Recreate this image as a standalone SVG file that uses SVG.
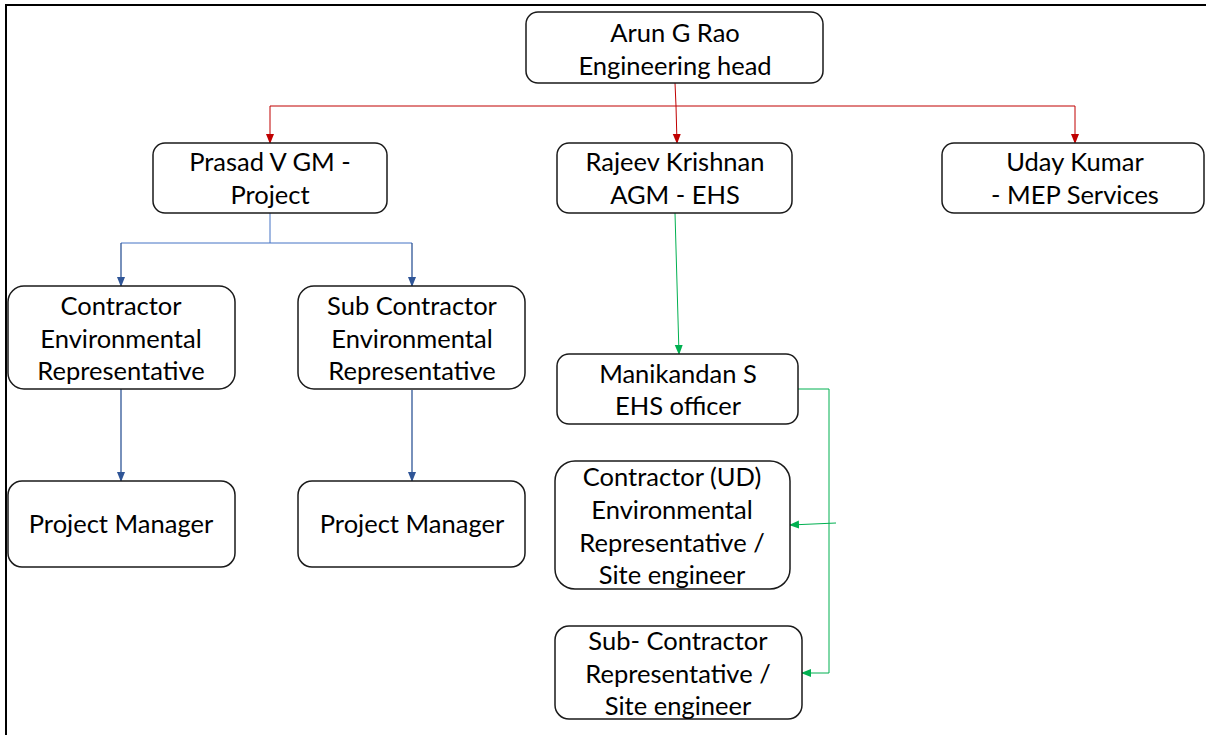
<svg xmlns="http://www.w3.org/2000/svg" width="1206" height="735" viewBox="0 0 1206 735">
<style>
.box{fill:#fff;stroke:#1a1a1a;stroke-width:1.5}
.t{font-family:Lato,"Liberation Sans",sans-serif;font-size:25.5px;fill:#000;text-anchor:middle}
.red{stroke:#C00000;stroke-width:1;fill:none}
.blue{stroke:#4472C4;stroke-width:1;fill:none}
.blue2{stroke:#2F5597;stroke-width:1.3;fill:none}
.green{stroke:#00B050;stroke-width:1;fill:none}
</style>
<defs>
<marker id="ar" markerWidth="10" markerHeight="10" refX="9" refY="5" orient="auto" markerUnits="userSpaceOnUse"><path d="M0,1 L10,5 L0,9 Z" fill="#C00000"/></marker>
<marker id="ab" markerWidth="10" markerHeight="10" refX="9" refY="5" orient="auto" markerUnits="userSpaceOnUse"><path d="M0,1 L10,5 L0,9 Z" fill="#2F5597"/></marker>
<marker id="ag" markerWidth="10" markerHeight="10" refX="9" refY="5" orient="auto" markerUnits="userSpaceOnUse"><path d="M0,1 L10,5 L0,9 Z" fill="#00B050"/></marker>
</defs>
<rect width="1206" height="735" fill="#fff"/>
<path d="M6,735 V5 H1206" fill="none" stroke="#000" stroke-width="2"/>
<g id="connectors">
<path class="red" d="M675,83 L676,106"/>
<path class="red" d="M270,106 H1075"/>
<path class="red" d="M270,106 V143" marker-end="url(#ar)"/>
<path class="red" d="M676,106 L677,143" marker-end="url(#ar)"/>
<path class="red" d="M1075,106 V143" marker-end="url(#ar)"/>
<path class="blue" d="M270,213 V243 M121,243 H412"/>
<path class="blue2" d="M121,243 V286" marker-end="url(#ab)"/>
<path class="blue2" d="M412,243 V286" marker-end="url(#ab)"/>
<path class="blue2" d="M121,389 V481" marker-end="url(#ab)"/>
<path class="blue2" d="M412,390 V481" marker-end="url(#ab)"/>
<path class="green" d="M675,213 L679,354" marker-end="url(#ag)"/>
<path class="green" d="M798,389 H829 V673 H802" marker-end="url(#ag)"/>
<path class="green" d="M836,523 L790,525" marker-end="url(#ag)"/>
</g>
<g id="arun"><rect class="box" x="526" y="12" width="297" height="71" rx="12"/><text class="t" x="675" y="42">Arun G Rao</text><text class="t" x="675" y="75">Engineering head</text></g>
<g id="prasad"><rect class="box" x="153" y="143" width="234" height="70" rx="12"/><text class="t" x="270" y="171">Prasad V GM -</text><text class="t" x="270" y="204">Project</text></g>
<g id="rajeev"><rect class="box" x="557" y="143" width="235" height="70" rx="12"/><text class="t" x="675" y="171">Rajeev Krishnan</text><text class="t" x="675" y="204">AGM - EHS</text></g>
<g id="uday"><rect class="box" x="942" y="143" width="262" height="70" rx="12"/><text class="t" x="1075" y="171">Uday Kumar</text><text class="t" x="1075" y="204">- MEP Services</text></g>
<g id="cer"><rect class="box" x="8" y="286" width="227" height="103" rx="16"/><text class="t" x="121" y="315">Contractor</text><text class="t" x="121" y="348">Environmental</text><text class="t" x="121" y="380">Representative</text></g>
<g id="scer"><rect class="box" x="298" y="286" width="227" height="103" rx="16"/><text class="t" x="412" y="315">Sub Contractor</text><text class="t" x="412" y="348">Environmental</text><text class="t" x="412" y="380">Representative</text></g>
<g id="pm1"><rect class="box" x="8" y="481" width="227" height="86" rx="14"/><text class="t" x="121" y="533">Project Manager</text></g>
<g id="pm2"><rect class="box" x="298" y="481" width="227" height="86" rx="14"/><text class="t" x="412" y="533">Project Manager</text></g>
<g id="manikandan"><rect class="box" x="557" y="354" width="241" height="70" rx="12"/><text class="t" x="678" y="383">Manikandan S</text><text class="t" x="678" y="415">EHS officer</text></g>
<g id="contractorud"><rect class="box" x="555" y="461" width="235" height="128" rx="20"/><text class="t" x="672" y="486">Contractor (UD)</text><text class="t" x="672" y="519">Environmental</text><text class="t" x="672" y="552">Representative /</text><text class="t" x="672" y="584">Site engineer</text></g>
<g id="subcontractor"><rect class="box" x="555" y="626" width="247" height="93" rx="14"/><text class="t" x="678" y="650">Sub- Contractor</text><text class="t" x="678" y="683">Representative /</text><text class="t" x="678" y="715">Site engineer</text></g>
</svg>
